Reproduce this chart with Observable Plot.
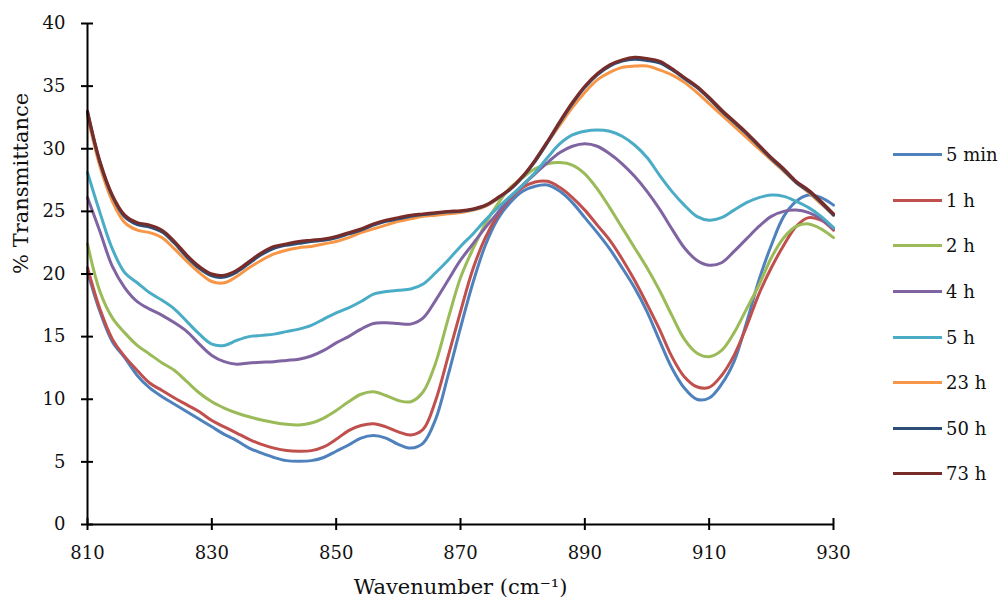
<!DOCTYPE html>
<html><head><meta charset="utf-8">
<script src="https://cdn.jsdelivr.net/npm/d3@7"></script>
<script src="https://cdn.jsdelivr.net/npm/@observablehq/plot@0.6"></script>
<style>
body{margin:0;background:#fff;}
#wrap{position:relative;width:1003px;height:603px;overflow:hidden;}
#legend{position:absolute;left:893px;top:132px;font-family:"DejaVu Serif",serif;font-size:18px;color:#111;}
.item{display:flex;align-items:center;height:45.6px;white-space:nowrap;}
.sw{width:49px;height:3px;margin-right:4px;}
</style></head><body><div id="wrap"><div id="legend"></div></div>
<script>
const wavenumbers = [810,812,814,816,818,820,822,824,826,828,830,832,834,836,838,840,842,844,846,848,850,852,854,856,858,860,862,864,866,868,870,872,874,876,878,880,882,884,886,888,890,892,894,896,898,900,902,904,906,908,910,912,914,916,918,920,922,924,926,928,930];
const seriesNames = ["5 min","1 h","2 h","4 h","5 h","23 h","50 h","73 h"];
const seriesColors = ["#4F81BD","#C0504D","#9BBB59","#8064A2","#4BACC6","#F79646","#2C4D75","#772C2A"];
const xTicks = [810,830,850,870,890,910,930];
const yTicks = [0,5,10,15,20,25,30,35,40];
const xTitle = "Wavenumber (cm⁻¹)";
const yTitle = "% Transmittance";

const min5 = [20.2,17.0,14.6,13.3,11.9,10.9,10.2,9.6,9.0,8.4,
  7.8,7.2,6.7,6.1,5.7,5.35,5.1,5.05,5.1,5.35,
  5.85,6.35,6.9,7.1,6.9,6.4,6.1,6.5,8.4,11.9,
  15.7,19.3,22.3,24.4,25.7,26.6,27.0,27.1,26.6,25.7,
  24.5,23.3,22.0,20.5,18.9,17.0,14.7,12.5,10.9,10.0,
  10.1,11.2,13.0,16.1,19.5,22.3,24.6,25.8,26.3,26.1,
  25.5];
const h1 = [20.5,17.2,14.8,13.4,12.3,11.3,10.7,10.1,9.55,9.0,
  8.3,7.8,7.3,6.8,6.4,6.1,5.9,5.85,5.9,6.2,
  6.8,7.5,7.9,8.05,7.8,7.4,7.15,7.6,9.9,13.4,
  17.0,20.4,22.9,24.7,26.0,26.9,27.35,27.4,26.9,26.1,
  25.1,23.9,22.7,21.2,19.5,17.6,15.6,13.4,11.8,11.0,
  10.95,11.9,13.5,15.8,18.4,20.5,22.3,23.8,24.5,24.3,
  23.5];
const h2 = [22.4,18.6,16.5,15.3,14.3,13.6,12.9,12.3,11.4,10.5,
  9.8,9.3,8.9,8.6,8.35,8.15,8.0,7.95,8.1,8.5,
  9.1,9.8,10.4,10.6,10.3,9.9,9.8,10.6,12.9,16.4,
  19.7,22.0,24.0,25.6,26.9,27.7,28.4,28.8,28.9,28.7,
  28.0,26.8,25.3,23.7,22.1,20.5,18.7,16.7,14.8,13.7,
  13.4,13.9,15.3,17.2,19.1,21.3,22.9,23.8,24.0,23.6,
  22.9];
const h4 = [26.1,23.4,20.6,18.9,17.8,17.2,16.7,16.1,15.4,14.4,
  13.5,13.0,12.8,12.9,12.95,13.0,13.1,13.2,13.45,13.9,
  14.5,15.0,15.6,16.05,16.1,16.05,16.0,16.5,17.9,19.5,
  21.1,22.4,23.7,24.9,26.1,27.1,28.0,28.9,29.7,30.2,
  30.4,30.2,29.6,28.8,27.8,26.6,25.2,23.6,22.1,21.1,
  20.7,20.9,21.8,22.8,23.8,24.6,25.0,25.1,24.9,24.4,
  23.6];
const h5 = [28.1,24.9,22.0,20.1,19.3,18.5,17.9,17.2,16.2,15.2,
  14.4,14.3,14.7,15.0,15.1,15.2,15.4,15.6,15.9,16.4,
  16.9,17.3,17.8,18.4,18.6,18.7,18.8,19.2,20.1,21.1,
  22.2,23.2,24.3,25.3,26.2,27.1,28.1,29.3,30.4,31.1,
  31.4,31.5,31.4,31.0,30.3,29.3,27.9,26.6,25.5,24.6,
  24.3,24.5,25.1,25.7,26.1,26.3,26.2,25.8,25.3,24.6,
  23.7];
const h23 = [32.6,28.6,25.8,24.1,23.5,23.3,22.9,22.0,21.0,20.1,
  19.4,19.3,19.8,20.5,21.1,21.6,21.9,22.1,22.2,22.4,
  22.6,22.9,23.3,23.6,23.9,24.2,24.4,24.6,24.7,24.8,
  24.9,25.1,25.4,26.0,26.8,27.8,29.0,30.5,31.9,33.3,
  34.5,35.5,36.1,36.5,36.6,36.6,36.3,35.9,35.3,34.5,
  33.6,32.7,31.8,30.9,30.0,29.1,28.2,27.3,26.5,25.6,
  24.7];
const h50 = [32.9,28.9,26.2,24.55,23.95,23.75,23.35,22.45,21.35,20.45,
  19.85,19.75,20.15,20.85,21.55,22.05,22.3,22.45,22.6,22.7,
  22.9,23.2,23.5,23.9,24.2,24.4,24.6,24.75,24.85,24.95,
  25.0,25.15,25.45,26.05,26.75,27.75,29.0,30.5,32.1,33.6,
  34.9,35.9,36.6,37.0,37.15,37.05,36.85,36.3,35.6,34.9,
  34.0,33.0,32.1,31.2,30.2,29.2,28.3,27.3,26.6,25.7,
  24.7];
const h73 = [33.0,29.0,26.3,24.7,24.1,23.9,23.5,22.6,21.5,20.6,
  20.0,19.9,20.3,21.0,21.7,22.2,22.4,22.6,22.7,22.8,
  23.0,23.3,23.6,24.0,24.3,24.5,24.7,24.8,24.9,25.0,
  25.05,25.2,25.5,26.1,26.8,27.8,29.1,30.6,32.2,33.7,
  35.0,36.0,36.7,37.1,37.3,37.2,37.0,36.4,35.7,35.0,
  34.1,33.1,32.2,31.3,30.3,29.3,28.4,27.4,26.7,25.8,
  24.8];

const seriesValues = [min5, h1, h2, h4, h5, h23, h50, h73];
const rows = [];
seriesNames.forEach((name, s) => {
  wavenumbers.forEach((wn, i) => rows.push({series: name, wn, v: seriesValues[s][i]}));
});

const chart = Plot.plot({
  width: 1003,
  height: 603,
  marginLeft: 87,
  marginRight: 170,
  marginTop: 23,
  marginBottom: 79,
  style: {fontFamily: "DejaVu Serif, serif", fontSize: "18px", color: "#111", background: "#fff", overflow: "visible"},
  x: {domain: [810, 930]},
  y: {domain: [0, 40]},
  color: {domain: seriesNames, range: seriesColors},
  marks: [
    Plot.axisX({ticks: xTicks, tickSize: 0, tickPadding: 22, tickFormat: d => String(d), label: null}),
    Plot.axisY({ticks: yTicks, tickSize: 0, tickPadding: 22, tickFormat: d => String(d), label: null}),
    Plot.text([xTitle], {text: d => d, frameAnchor: "bottom", dy: 69, fontSize: 21, fill: "#111"}),
    Plot.text([yTitle], {text: d => d, frameAnchor: "left", dx: -66, rotate: -90, fontSize: 21, fill: "#111"}),
    Plot.line(rows, {x: "wn", y: "v", z: "series", stroke: "series", strokeWidth: 3, curve: "catmull-rom"}),
    Plot.ruleX([810], {stroke: "#000", strokeWidth: 2}),
    Plot.ruleY([0], {stroke: "#000", strokeWidth: 2}),
    Plot.ruleX(xTicks, {y1: 0, y2: 0, insetTop: -6, insetBottom: -6, stroke: "#000", strokeWidth: 2}),
    Plot.ruleY(yTicks, {x1: 810, x2: 810, insetLeft: -6, insetRight: -6, stroke: "#000", strokeWidth: 2})
  ]
});
const wrap = document.getElementById("wrap");
wrap.insertBefore(chart, wrap.firstChild);

const legend = document.getElementById("legend");
seriesNames.forEach((name, i) => {
  const item = document.createElement("div");
  item.className = "item";
  const sw = document.createElement("span");
  sw.className = "sw";
  sw.style.background = seriesColors[i];
  const t = document.createElement("span");
  t.textContent = name;
  item.appendChild(sw);
  item.appendChild(t);
  legend.appendChild(item);
});
</script>
</body></html>
